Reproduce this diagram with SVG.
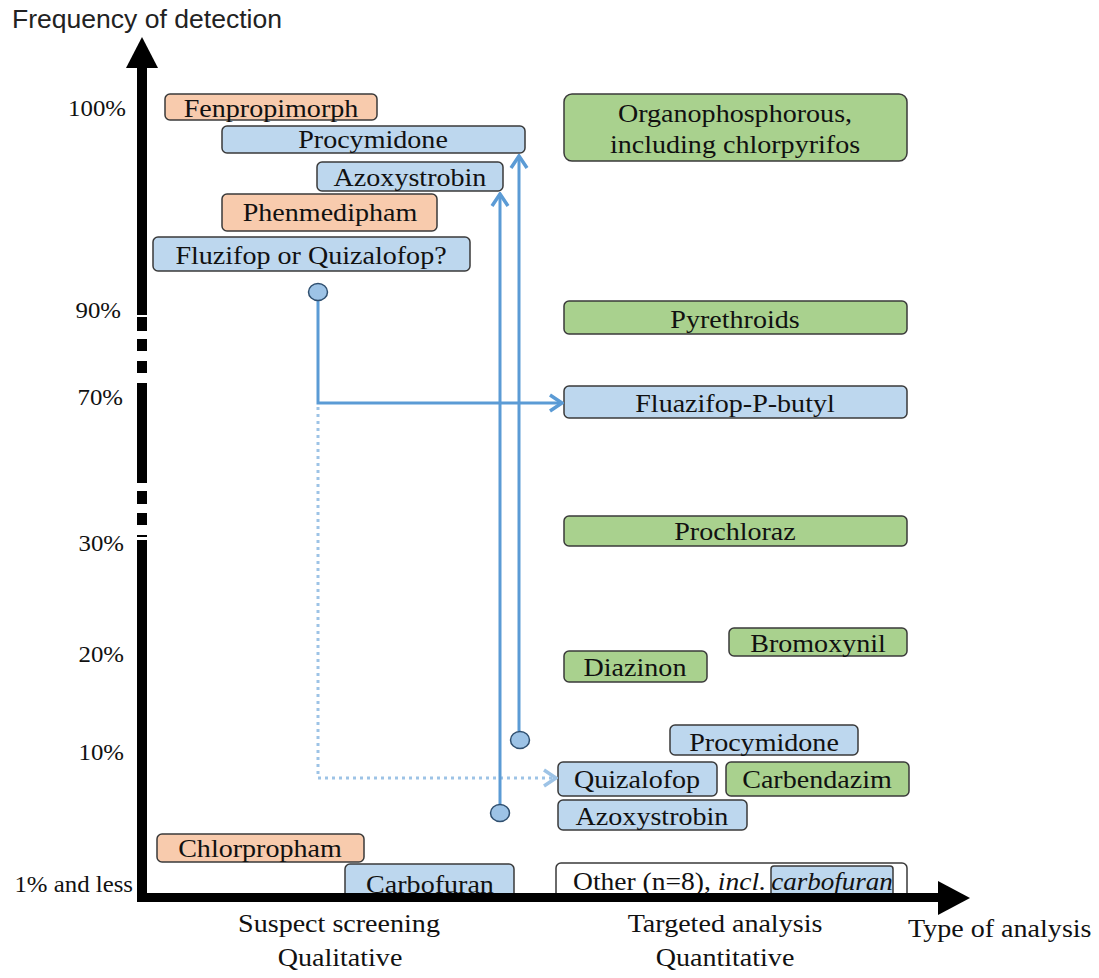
<svg xmlns="http://www.w3.org/2000/svg" width="1099" height="978" viewBox="0 0 1099 978">
<style>
.t{font-family:"Liberation Serif","Times New Roman",serif;font-size:26px;fill:#111;text-anchor:middle}
.p{font-family:"Liberation Serif","Times New Roman",serif;font-size:23px;fill:#111;text-anchor:end}
.s{font-family:"Liberation Sans",Arial,sans-serif;font-size:25px;fill:#222}
.o{fill:#F8CBAD;stroke:#3a3a3a;stroke-width:1.5}
.b{fill:#BDD7EE;stroke:#3a3a3a;stroke-width:1.5}
.g{fill:#A9D18E;stroke:#3a3a3a;stroke-width:1.5}
.w{fill:#fff;stroke:#3a3a3a;stroke-width:1.5}
.c{fill:none;stroke:#5B9BD5;stroke-width:3}
.d{fill:none;stroke:#9DC3E6;stroke-width:3;stroke-dasharray:3 4}
.dot{fill:#9DC3E6;stroke:#2F4F6F;stroke-width:1.5}
.ax{fill:#000}
</style>
<defs>
<marker id="ah" markerUnits="userSpaceOnUse" viewBox="0 0 16 20" refX="14" refY="10" markerWidth="16" markerHeight="20" orient="auto">
<path d="M2,2 L14,10 L2,18" fill="none" stroke="#5B9BD5" stroke-width="3.5"/>
</marker>
<marker id="ahl" markerUnits="userSpaceOnUse" viewBox="0 0 16 20" refX="14" refY="10" markerWidth="16" markerHeight="20" orient="auto">
<path d="M2,2 L14,10 L2,18" fill="none" stroke="#9DC3E6" stroke-width="3.5"/>
</marker>
</defs>
<rect width="1099" height="978" fill="#fff"/>

<!-- axis labels -->
<text class="s" x="12" y="28" textLength="270" lengthAdjust="spacingAndGlyphs">Frequency of detection</text>
<g id="ylabels">
<text class="p" transform="translate(126 116) scale(1.08 1)">100%</text>
<text class="p" transform="translate(121 318) scale(1.08 1)">90%</text>
<text class="p" transform="translate(123 405) scale(1.08 1)">70%</text>
<text class="p" transform="translate(124 551) scale(1.08 1)">30%</text>
<text class="p" transform="translate(124 662) scale(1.08 1)">20%</text>
<text class="p" transform="translate(124 760) scale(1.08 1)">10%</text>
<text class="p" transform="translate(133 892) scale(1.08 1)">1% and less</text>
</g>

<!-- left column nodes -->
<g id="fenpropimorph"><rect class="o" x="165" y="94" width="212" height="26" rx="5"/><text class="t" transform="translate(271 117) scale(1.08 1)">Fenpropimorph</text></g>
<g id="procymidone-l"><rect class="b" x="222" y="126" width="303" height="27" rx="5"/><text class="t" transform="translate(373 148) scale(1.08 1)">Procymidone</text></g>
<g id="azoxystrobin-l"><rect class="b" x="317" y="162" width="186" height="29" rx="5"/><text class="t" transform="translate(410 186) scale(1.08 1)">Azoxystrobin</text></g>
<g id="phenmedipham"><rect class="o" x="222" y="194" width="215" height="37" rx="5"/><text class="t" transform="translate(330 221) scale(1.08 1)">Phenmedipham</text></g>
<g id="fluzifop"><rect class="b" x="153" y="237" width="317" height="34" rx="5"/><text class="t" transform="translate(311 264) scale(1.08 1)">Fluzifop or Quizalofop?</text></g>
<g id="chlorpropham"><rect class="o" x="157" y="834" width="207" height="28" rx="5"/><text class="t" transform="translate(260 857) scale(1.08 1)">Chlorpropham</text></g>
<g id="carbofuran-l"><rect class="b" x="345" y="864" width="169" height="36" rx="5"/><text class="t" transform="translate(430 893) scale(1.08 1)">Carbofuran</text></g>

<!-- right column nodes -->
<g id="organophosphorous"><rect class="g" x="564" y="94" width="343" height="67" rx="8"/><text class="t" transform="translate(735 122) scale(1.08 1)">Organophosphorous,</text><text class="t" transform="translate(735 153) scale(1.08 1)">including chlorpyrifos</text></g>
<g id="pyrethroids"><rect class="g" x="564" y="301" width="343" height="33" rx="5"/><text class="t" transform="translate(735 328) scale(1.08 1)">Pyrethroids</text></g>
<g id="fluazifop"><rect class="b" x="564" y="386" width="343" height="32" rx="5"/><text class="t" transform="translate(735 412) scale(1.08 1)">Fluazifop-P-butyl</text></g>
<g id="prochloraz"><rect class="g" x="564" y="516" width="343" height="30" rx="5"/><text class="t" transform="translate(735 540) scale(1.08 1)">Prochloraz</text></g>
<g id="bromoxynil"><rect class="g" x="729" y="628" width="178" height="28" rx="5"/><text class="t" transform="translate(818 652) scale(1.08 1)">Bromoxynil</text></g>
<g id="diazinon"><rect class="g" x="564" y="651" width="143" height="31" rx="5"/><text class="t" transform="translate(635 676) scale(1.08 1)">Diazinon</text></g>
<g id="procymidone-r"><rect class="b" x="670" y="725" width="188" height="30" rx="5"/><text class="t" transform="translate(764 751) scale(1.08 1)">Procymidone</text></g>
<g id="quizalofop"><rect class="b" x="558" y="762" width="159" height="34" rx="5"/><text class="t" transform="translate(637 788) scale(1.08 1)">Quizalofop</text></g>
<g id="carbendazim"><rect class="g" x="726" y="762" width="183" height="34" rx="5"/><text class="t" transform="translate(817 788) scale(1.08 1)">Carbendazim</text></g>
<g id="azoxystrobin-r"><rect class="b" x="558" y="800" width="189" height="30" rx="5"/><text class="t" transform="translate(652 825) scale(1.08 1)">Azoxystrobin</text></g>
<g id="other"><rect class="w" x="556" y="863" width="351" height="37" rx="5"/>
<rect class="b" x="771" y="866" width="122" height="34" rx="3"/>
<text class="t" style="text-anchor:start" transform="translate(573 890) scale(1.06 1)">Other (n=8), <tspan font-style="italic">incl.</tspan></text>
<text class="t" font-style="italic" transform="translate(832 890) scale(1.04 1)">carbofuran</text></g>

<!-- connectors -->
<g id="connectors">
<path class="c" d="M318,300 V403 H562" marker-end="url(#ah)"/>
<path class="d" d="M318,407 V778 H556" marker-end="url(#ahl)"/>
<path class="c" d="M500,804 V194" marker-end="url(#ah)"/>
<path class="c" d="M519,731 V156" marker-end="url(#ah)"/>
<ellipse class="dot" cx="318" cy="292" rx="9.5" ry="8.5"/>
<ellipse class="dot" cx="500" cy="813" rx="9.5" ry="8.5"/>
<ellipse class="dot" cx="520" cy="740" rx="9.5" ry="8.5"/>
</g>

<!-- axes -->
<g id="axes">
<polygon class="ax" points="142,37 158,68 126,68"/>
<rect class="ax" x="137" y="67" width="10" height="248"/>
<rect class="ax" x="137" y="317" width="10" height="14"/>
<rect class="ax" x="137" y="339" width="10" height="12"/>
<rect class="ax" x="137" y="361" width="10" height="12"/>
<rect class="ax" x="137" y="383" width="10" height="100"/>
<rect class="ax" x="137" y="491" width="10" height="13"/>
<rect class="ax" x="137" y="513" width="10" height="12"/>
<rect class="ax" x="137" y="535" width="10" height="2"/>
<rect class="ax" x="137" y="540" width="10" height="362"/>
<rect class="ax" x="137" y="893" width="803" height="9"/>
<polygon class="ax" points="970,898 938,881 938,915"/>
</g>

<text class="t" transform="translate(339 932) scale(1.08 1)">Suspect screening</text>
<text class="t" transform="translate(340 966) scale(1.08 1)">Qualitative</text>
<text class="t" transform="translate(725 932) scale(1.08 1)">Targeted analysis</text>
<text class="t" transform="translate(725 966) scale(1.08 1)">Quantitative</text>
<text class="t" style="text-anchor:start" transform="translate(908 937) scale(1.08 1)">Type of analysis</text>
</svg>
